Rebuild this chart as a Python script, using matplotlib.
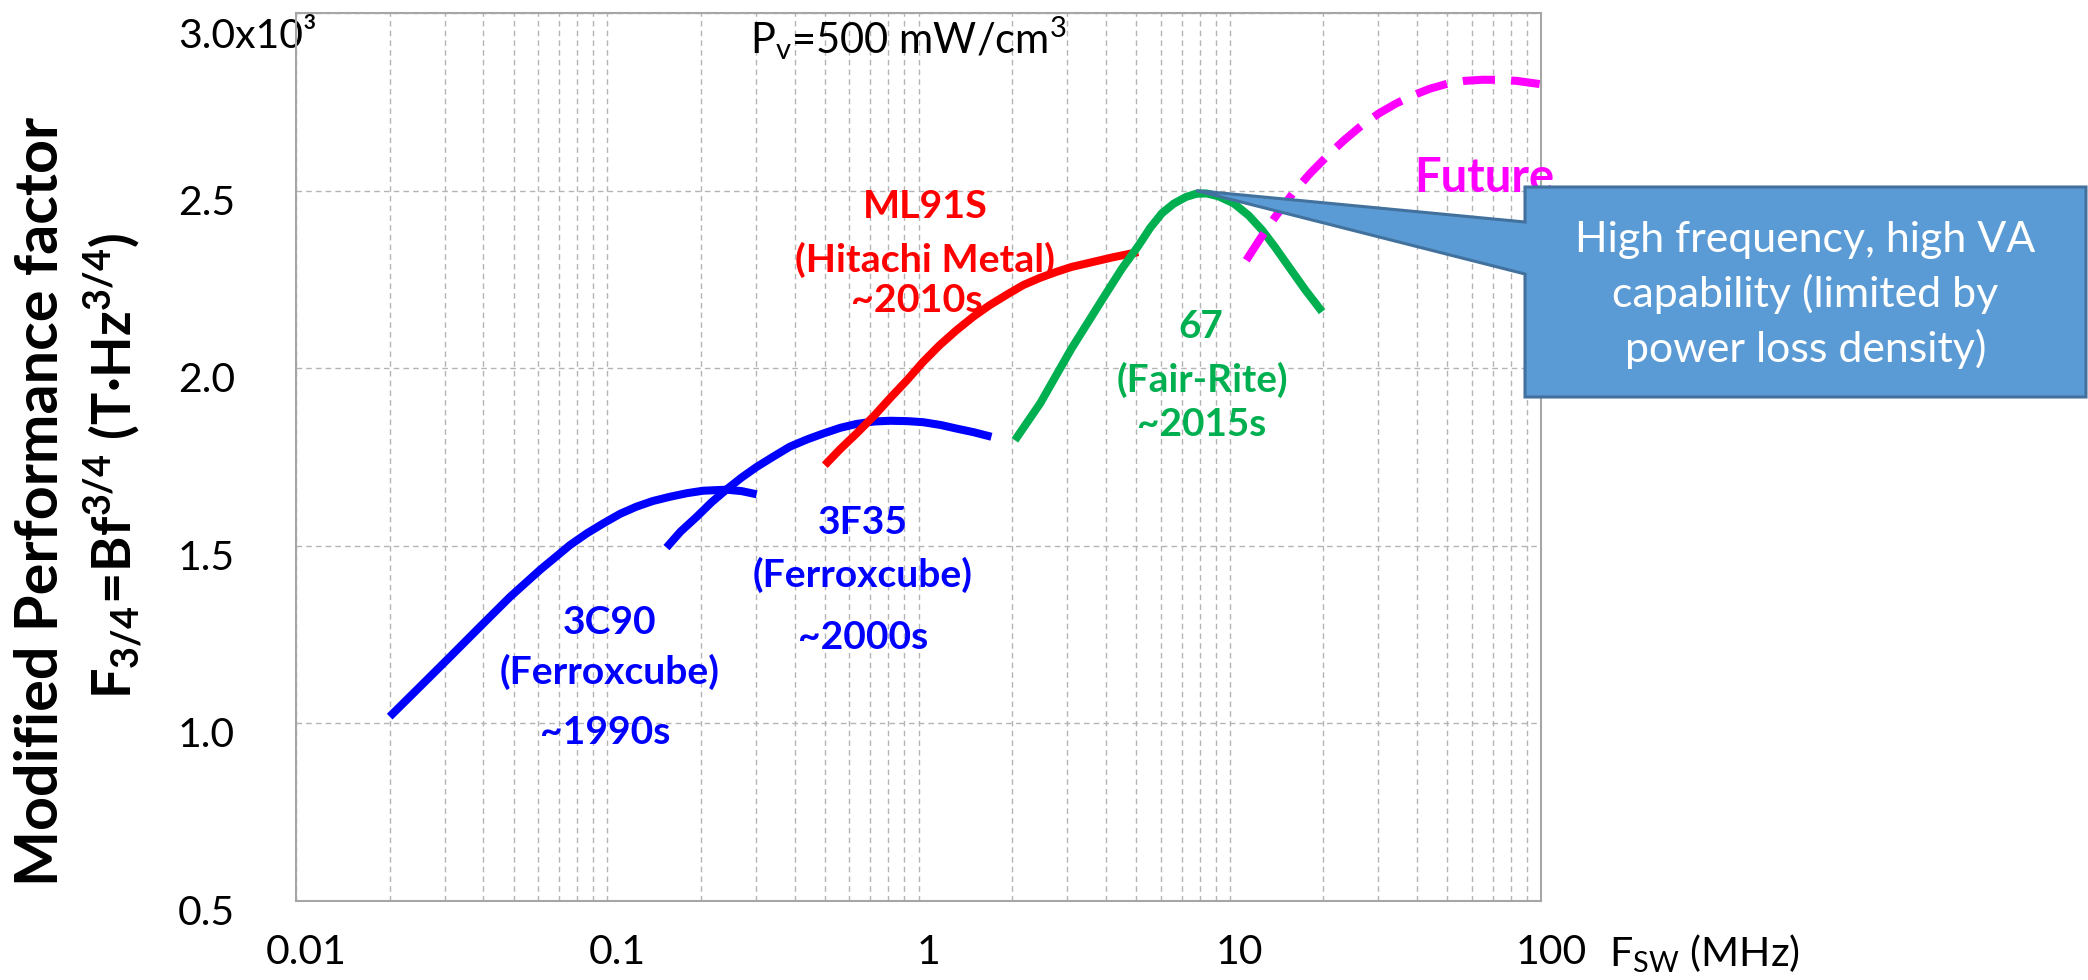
import matplotlib
matplotlib.use("Agg")
import matplotlib.pyplot as plt
import matplotlib.transforms as mtransforms
from matplotlib.patches import Polygon
from matplotlib.ticker import FixedLocator, NullFormatter

# ---------------- data ----------------
f_3c90 = [0.0200, 0.0250, 0.0313, 0.0390, 0.0487, 0.0608, 0.0759, 0.0860, 0.0971, 0.110,
          0.124, 0.140, 0.159, 0.180, 0.203, 0.242, 0.270, 0.302]
v_3c90 = [1.019, 1.103, 1.188, 1.272, 1.356, 1.432, 1.502, 1.535, 1.563, 1.590,
          1.610, 1.626, 1.638, 1.648, 1.655, 1.658, 1.654, 1.645]

f_3f35 = [0.155, 0.172, 0.194, 0.216, 0.242, 0.270, 0.302, 0.340, 0.386, 0.440, 0.494,
          0.560, 0.632, 0.720, 0.809, 0.920, 1.035, 1.180, 1.325, 1.500, 1.715]
v_3f35 = [1.495, 1.540, 1.582, 1.622, 1.659, 1.692, 1.722, 1.750, 1.779, 1.800, 1.816,
          1.832, 1.843, 1.850, 1.852, 1.851, 1.848, 1.840, 1.830, 1.820, 1.807]

f_ml91s = [0.50, 0.56, 0.632, 0.72, 0.809, 0.92, 1.035, 1.17, 1.325, 1.50, 1.69, 1.93,
           2.17, 2.45, 2.77, 3.10, 3.55, 4.20, 5.08]
v_ml91s = [1.727, 1.772, 1.816, 1.866, 1.915, 1.967, 2.018, 2.065, 2.107, 2.145, 2.177, 2.208,
           2.234, 2.254, 2.271, 2.285, 2.297, 2.312, 2.327]

f_67 = [2.04, 2.46, 3.10, 3.97, 4.50, 5.10, 5.55, 6.05, 6.60, 7.23, 7.80, 8.42, 9.20,
        10.3, 11.5, 12.7, 14.0, 15.5, 17.5, 19.8]
v_67 = [1.797, 1.901, 2.055, 2.205, 2.280, 2.346, 2.395, 2.436, 2.463, 2.482, 2.491, 2.492, 2.484,
        2.464, 2.430, 2.389, 2.340, 2.285, 2.220, 2.159]

f_future = [11.3, 12.6, 14.0, 16.0, 18.1, 20.6, 23.3, 26.5, 30.1, 34.2, 38.8, 44.0,
            50.1, 57.0, 64.7, 73.0, 83.4, 99.0]
v_future = [2.304, 2.368, 2.426, 2.494, 2.548, 2.598, 2.642, 2.683, 2.717, 2.745, 2.768, 2.787,
            2.801, 2.809, 2.812, 2.812, 2.809, 2.800]

x_ticks = [0.01, 0.1, 1, 10, 100]
x_tick_labels = ["0.01", "0.1", "1", "10", "100"]
y_ticks = [0.5, 1.0, 1.5, 2.0, 2.5, 3.0]
y_tick_labels = ["0.5", "1.0", "1.5", "2.0", "2.5", "3.0x10³"]

callout_tip = (7.8, 2.50)   # data point the callout points to
# ----------------------------------------------------------------

W, H = 2088, 980
DPI = 100
FONT = "Lato"

plt.rcParams["font.family"] = [FONT, "DejaVu Sans"]
plt.rcParams["mathtext.fontset"] = "custom"
plt.rcParams["mathtext.rm"] = FONT
plt.rcParams["mathtext.it"] = FONT + ":italic"
plt.rcParams["mathtext.bf"] = FONT + ":bold"


def fp(px, py):
    """pixel (top-left origin) -> figure fraction"""
    return px / W, 1 - py / H


fig = plt.figure(figsize=(W / DPI, H / DPI), dpi=DPI)
fig.patch.set_facecolor("white")
renderer = fig.canvas.get_renderer()


def fit(texts, target_px, dim="w"):
    """scale font size of a group so that the first text's extent matches target_px"""
    bb = texts[0].get_window_extent(renderer)
    cur = bb.width if dim == "w" else bb.height
    k = target_px / cur
    for t in texts:
        t.set_fontsize(t.get_fontsize() * k)
    return texts[0].get_fontsize()


def measured_size(s, target_px, **kw):
    t = fig.text(0, 0, s, fontsize=20, **kw)
    size = fit([t], target_px)
    t.remove()
    return size


L, R, T, B = 296, 1541, 13, 901
ax = fig.add_axes([L / W, 1 - B / H, (R - L) / W, (B - T) / H])

ax.set_xscale("log")
ax.set_xlim(0.01, 100)
ax.set_ylim(0.5, 3.0)

grid_kw = dict(color="#B4B4B4", linewidth=1.0, linestyle=(0, (4, 3)))
ax.xaxis.set_minor_locator(FixedLocator(
    [m * 10.0 ** e for e in range(-2, 2) for m in range(2, 10)]))
ax.xaxis.set_minor_formatter(NullFormatter())
ax.grid(True, which="major", axis="both", **grid_kw)
ax.grid(True, which="minor", axis="x", **grid_kw)
ax.set_axisbelow(True)

tick_size = measured_size("2.5", 57)
ax.set_xticks(x_ticks)
ax.set_xticklabels(x_tick_labels)
ax.set_yticks(y_ticks)
ax.set_yticklabels(y_tick_labels)
ax.tick_params(axis="both", which="both", length=0, labelsize=tick_size, labelcolor="black")
ax.tick_params(axis="x", pad=24)
ax.tick_params(axis="y", pad=(L - 178) * 72 / DPI)
for lab in ax.get_yticklabels():
    lab.set_horizontalalignment("left")
    dy = -20 if "x10" in lab.get_text() else -9
    lab.set_transform(lab.get_transform() +
                      mtransforms.ScaledTranslation(0, dy / DPI, fig.dpi_scale_trans))
for lab in ax.get_xticklabels():
    lab.set_transform(lab.get_transform() +
                      mtransforms.ScaledTranslation(10 / DPI, 0, fig.dpi_scale_trans))

for s in ax.spines.values():
    s.set_color("#A6A6A6")
    s.set_linewidth(1.5)

line_kw = dict(linewidth=5.8, solid_capstyle="butt", solid_joinstyle="round")
ax.plot(f_3c90, v_3c90, color="#0000FF", zorder=3, **line_kw)
ax.plot(f_3f35, v_3f35, color="#0000FF", zorder=3, **line_kw)
ax.plot(f_ml91s, v_ml91s, color="#FF0000", zorder=4, **line_kw)
ax.plot(f_67, v_67, color="#00B050", zorder=5, **line_kw)
ax.plot(f_future, v_future, color="#FF00FF", linewidth=5.8, dashes=(4, 2),
        dash_capstyle="butt", zorder=6)

# curve labels (widest line of each group is listed first and sets the size)
lab_kw = dict(ha="center", va="center", fontsize=24, fontweight="bold")
groups = [
    ("#0000FF", 220, [("(Ferroxcube)", (610, 672)), ("3C90", (610, 622)), ("~1990s", (605, 733))]),
    ("#0000FF", 220, [("(Ferroxcube)", (863, 575)), ("3F35", (863, 522)), ("~2000s", (863, 637))]),
    ("#FF0000", 261, [("(Hitachi Metal)", (925, 260)), ("ML91S", (925, 207)), ("~2010s", (917, 300))]),
    ("#00B050", 172, [("(Fair-Rite)", (1202, 380)), ("67", (1201, 327)), ("~2015s", (1202, 425))]),
]
for color, width, items in groups:
    ts = [fig.text(*fp(px, py), txt, color=color, **lab_kw) for txt, (px, py) in items]
    fit(ts, width)
fut = fig.text(*fp(1484, 178), "Future", color="#FF00FF", ha="center", va="center",
               fontsize=30, fontweight="bold", zorder=1)
fit([fut], 140)

# title-like annotation
ttl = fig.text(*fp(750, 53), r"P$_\mathrm{v}$=500 mW/cm$^\mathrm{3}$", ha="left",
               va="baseline", fontsize=28)
fit([ttl], 317)

# x axis label next to the "100" tick
xl = fig.text(*fp(1609, 967), r"F$_\mathrm{SW}$ (MHz)", ha="left", va="baseline", fontsize=28)
fit([xl], 191)

# y axis label (two lines)
yl1 = fig.text(*fp(58, 501), "Modified Performance factor", rotation=90, rotation_mode="anchor",
               ha="center", va="baseline", fontsize=40, fontweight="bold")
fit([yl1], 767, dim="h")
yl2 = fig.text(*fp(132, 466), r"$\mathbf{F_{3/4}\!=\!Bf^{3/4}\ (T·Hz^{3/4})}$", rotation=90,
               rotation_mode="anchor", ha="center", va="baseline", fontsize=40)
fit([yl2], 466, dim="h")

# callout
tip_px = ax.transData.transform(callout_tip)
tip_fig = fig.transFigure.inverted().transform(tip_px)
bx0, bx1, by0, by1 = 1525, 2086, 187, 397
verts = [fp(bx0, by0), fp(bx1, by0), fp(bx1, by1), fp(bx0, by1), fp(bx0, 274),
         tuple(tip_fig), fp(bx0, 222)]
poly = Polygon(verts, closed=True, transform=fig.transFigure, facecolor="#5B9BD5",
               edgecolor="#41719C", linewidth=2.2, zorder=10)
fig.patches.append(poly)
call_lines = "High frequency, high VA\ncapability (limited by\npower loss density)"
ct = fig.text(*fp((bx0 + bx1) / 2, 295), call_lines, ha="center", va="center",
              color="white", fontsize=28, linespacing=1.0, zorder=11)
fit([ct], 461)
one = fig.text(0, 0, "High", fontsize=ct.get_fontsize())
h1 = one.get_window_extent(renderer).height
one.remove()
h3 = ct.get_window_extent(renderer).height
ct.set_linespacing(58 / ((h3 - h1) / 2))

fig.savefig("out.png", dpi=DPI)
